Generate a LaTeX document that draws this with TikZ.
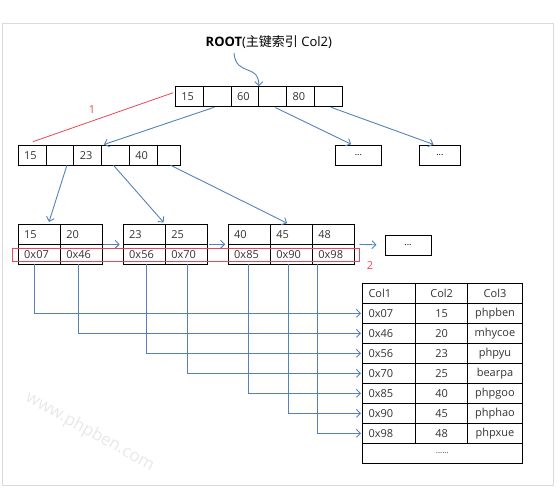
\documentclass[tikz,border=0pt]{standalone}
\usepackage{fontspec}
\setmainfont{Open Sans}
\newfontfamily\cjk{Noto Sans CJK SC}
\usepackage{tikz}
\usetikzlibrary{arrows.meta,positioning,calc}

\definecolor{linkblue}{RGB}{84,130,185}
\definecolor{markred}{RGB}{236,70,86}
\definecolor{framegray}{RGB}{218,218,218}
\definecolor{inkgray}{RGB}{51,51,51}

\begin{document}
\begin{tikzpicture}[
  x=1pt, y=-1pt,
  cell/.style={draw, line width=1pt, outer sep=0pt, inner xsep=6pt, inner ysep=0pt,
               minimum height=20pt, text width=#1, align=left, text=inkgray,
               font=\fontsize{11}{13}\selectfont},
  midcell/.style={cell=#1, align=center},
  dotsbox/.style={draw, line width=1pt, outer sep=0pt, minimum width=#1, minimum height=20pt,
                  inner sep=0pt, font=\fontsize{9}{11}\selectfont},
  link/.style={-{Straight Barb[length=4pt,width=8pt]}, draw=linkblue, line width=0.9pt},
  redmark/.style={draw=markred, line width=0.8pt},
  tag/.style={text=markred, font=\fontsize{11}{13}\selectfont}
]
  \useasboundingbox (0,0) rectangle (560,492);
  \draw[framegray, line width=1pt] (2.3,23.3) rectangle (553.3,485.5);

  % watermark
  \node[rotate=-29, text=black!9, font=\fontsize{17}{20}\selectfont] (wm) at (90,432) {www.phpben.com};

  % root page
  \node (rootlbl) at (268.8,41.7) {\fontsize{13}{15}\selectfont\textbf{ROOT}({\cjk 主键索引} Col2)};
  \node[cell=15.8pt, anchor=west] (r1) at (175.4,96.3) {15};
  \node[cell=15.8pt, right=0pt of r1] (r2) {};
  \node[cell=15.8pt, right=0pt of r2] (r3) {60};
  \node[cell=15.8pt, right=0pt of r3] (r4) {};
  \node[cell=15.8pt, right=0pt of r4] (r5) {80};
  \node[cell=15.8pt, right=0pt of r5] (r6) {};
  \coordinate (rootstart) at (234,53);
  \draw[link] (rootstart) .. controls (236,77) and (259,63) .. (r3.north east);

  % second level
  \node[cell=15.8pt, anchor=west] (l1) at (18.2,155.3) {15};
  \node[cell=15.8pt, right=0pt of l1] (l2) {};
  \node[cell=15.8pt, right=0pt of l2] (l3) {23};
  \node[cell=15.8pt, right=0pt of l3] (l4) {};
  \node[cell=15.8pt, right=0pt of l4] (l5) {40};
  \node[cell=11pt, right=0pt of l5] (l6) {};
  \node[dotsbox=46pt] (d1) at (358.4,155.3) {...};
  \node[dotsbox=41pt] (d2) at (439.9,155.3) {...};

  \draw[link, shorten <=3pt, shorten >=2.5pt] (r2.south) -- (l4.north west);
  \draw[link, shorten <=3pt, shorten >=2.5pt] (r4.south) -- ($(d1.north)+(-5,0)$);
  \draw[link, shorten <=3pt, shorten >=2.5pt] (r6.south) -- ($(d2.north)+(-4,0)$);

  % leaf pages
  \node[cell=30.1pt, anchor=north west] (ka1) at (18.2,224.3) {15};
  \node[cell=30.1pt, right=0pt of ka1] (ka2) {20};
  \node[cell=30.1pt, below=0pt of ka1] (pa1) {0x07};
  \node[cell=30.1pt, below=0pt of ka2] (pa2) {0x46};

  \node[cell=30.1pt, anchor=north west] (kb1) at (123.2,224.3) {23};
  \node[cell=30.1pt, right=0pt of kb1] (kb2) {25};
  \node[cell=30.1pt, below=0pt of kb1] (pb1) {0x56};
  \node[cell=30.1pt, below=0pt of kb2] (pb2) {0x70};

  \node[cell=30.1pt, anchor=north west] (kc1) at (228.2,224.3) {40};
  \node[cell=30.1pt, right=0pt of kc1] (kc2) {45};
  \node[cell=30.1pt, right=0pt of kc2] (kc3) {48};
  \node[cell=30.1pt, below=0pt of kc1] (pc1) {0x85};
  \node[cell=30.1pt, below=0pt of kc2] (pc2) {0x90};
  \node[cell=30.1pt, below=0pt of kc3] (pc3) {0x98};
  \node[dotsbox=46pt] (d3) at (408,245) {...};

  \draw[link, shorten >=2.5pt] ($(l2.south)+(7,0)$) -- ($(ka1.north)+(9,0)$);
  \draw[link, shorten >=2.5pt] ($(l4.south)+(-2,0)$) -- (kb1.north east);
  \draw[link, shorten >=2.5pt] ($(l6.south)+(2,0)$) -- ($(kc2.north)+(-2,0)$);

  \draw[link, shorten <=1pt, shorten >=3.5pt] (ka2.south east) -- (kb1.south west);
  \draw[link, shorten <=1.5pt, shorten >=3pt] (kb2.south east) -- (kc1.south west);
  \draw[link, shorten <=5pt, shorten >=8.5pt] (kc3.south east) -- (d3.west);

  % scan marks
  \draw[redmark] ($(r1.west)+(-2.2,-3.6)$) -- ($(l1.north)+(0.8,-3.6)$);
  \node[tag] (n1) at (92.1,110) {1};
  \draw[redmark] (12.5,248.3) rectangle (359.5,261);
  \node[tag] (n2) at (370,265.5) {2};

  % data table
  \node[cell=40.9pt, anchor=north west] (a0) at (362.5,283.3) {Col1};
  \node[midcell=40.5pt, right=0pt of a0] (b0) {Col2};
  \node[midcell=42.2pt, right=0pt of b0] (c0) {Col3};
  \foreach \ptr/\key/\val [count=\i] in {0x07/15/phpben, 0x46/20/mhycoe, 0x56/23/phpyu,
      0x70/25/bearpa, 0x85/40/phpgoo, 0x90/45/phphao, 0x98/48/phpxue} {
    \node[cell=40.9pt, anchor=north west] (a\i) at (362.5,{283.3+20*\i}) {\ptr};
    \node[midcell=40.5pt, right=0pt of a\i] (b\i) {\key};
    \node[midcell=42.2pt, right=0pt of b\i] (c\i) {\val};
  }
  \node[cell=147.6pt, align=center, anchor=north west] (tail) at (a7.south west)
        {\fontsize{8}{10}\selectfont ......};

  % pointers to rows
  \draw[link, shorten >=1.5pt] ($(pa1.south)+(-4.7,0)$) |- (a1.west);
  \draw[link, shorten >=1.5pt] ($(pa2.south)+(-2.9,0)$) |- (a2.west);
  \draw[link, shorten >=1.5pt] ($(pb1.south)+(2.5,0)$) |- (a3.west);
  \draw[link, shorten >=1.5pt] ($(pb2.south)+(1,0)$) |- (a4.west);
  \draw[link, shorten >=1.5pt] ($(pc1.south)+(-1.1,0)$) |- (a5.west);
  \draw[link, shorten >=1.5pt] ($(pc2.south)+(-2.9,0)$) |- (a6.west);
  \draw[link, shorten >=1.5pt] ($(pc3.south)+(-16,0)$) |- (a7.west);
\end{tikzpicture}
\end{document}
